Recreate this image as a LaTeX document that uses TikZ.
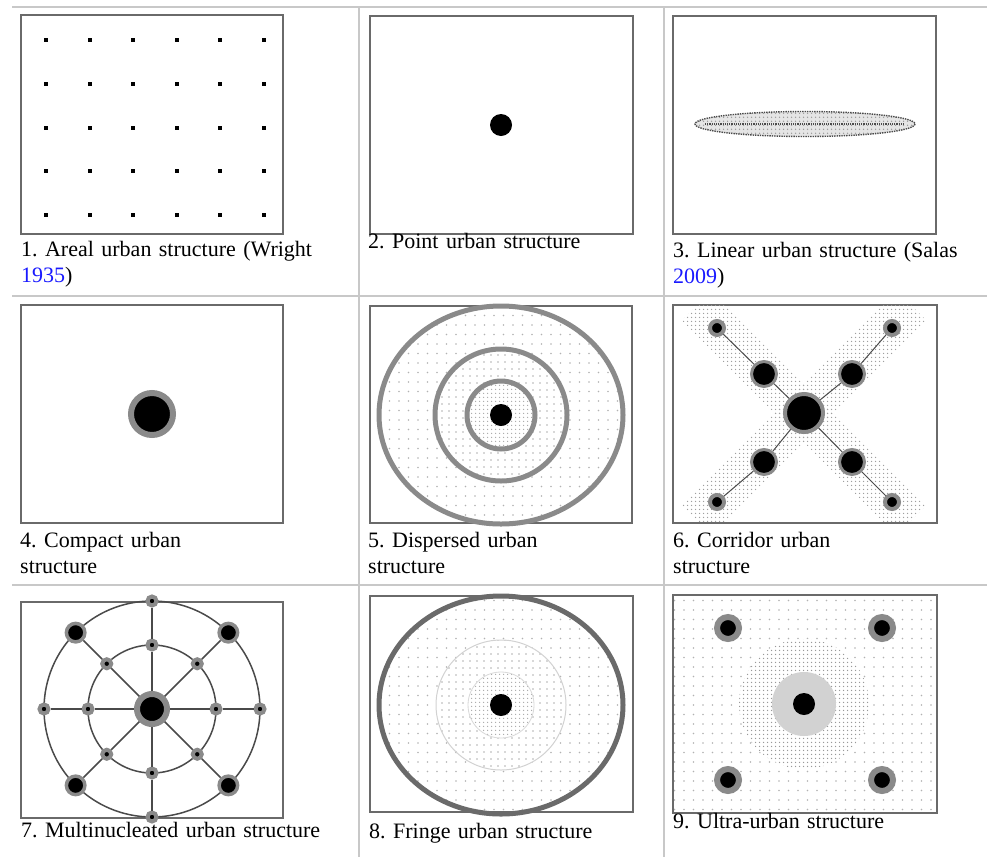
\documentclass[tikz,border=0pt]{standalone}
\usepackage{fontspec}
\setmainfont[WordSpace=1.35]{Liberation Serif}
\usepackage{xcolor}
\usepackage{tikz}
\usetikzlibrary{positioning,patterns.meta}

\definecolor{gridgray}{HTML}{C8C8C8}
\definecolor{framegray}{HTML}{6A6A6A}
\definecolor{ringgray}{HTML}{8A8A8A}
\definecolor{roadgray}{HTML}{4A4A4A}
\definecolor{citeblue}{HTML}{1A1AFF}

\begin{document}
\begin{tikzpicture}[
    x=1pt, y=-1pt,
    every node/.style={font=\fontsize{22}{26.5}\selectfont\frenchspacing},
    grid/.style={gridgray, line width=2pt},
    frame/.style={draw=framegray, line width=1.8pt},
    caption/.style={anchor=base west, inner sep=0pt},
    core/.style={circle, fill=black, inner sep=0pt, minimum size=#1},
    hub/.style 2 args={circle, fill=black, draw=ringgray, inner sep=0pt,
        minimum size=#1+#2, line width=#2-#1},
    road/.style={roadgray, line width=1.5pt},
    ring/.style={ringgray, line width=5pt},
    sparsedots/.style={pattern={Dots[distance=9.5pt, radius=0.9pt]}, pattern color=gray!60},
    middots/.style={pattern={Dots[distance=6.5pt, radius=0.9pt]}, pattern color=gray!60},
    densedots/.style={pattern={Dots[distance=4pt, radius=0.9pt]}, pattern color=gray!70}
]
\useasboundingbox (0,0) rectangle (987,857);

% table rules
\foreach \y in {7,296,585}
    \draw[grid] (12,\y) -- (987,\y);
\foreach \x in {359,664}
    \draw[grid] (\x,7) -- (\x,857);

% 1. areal
\draw[frame] (21,15) rectangle (283,234);
\foreach \i in {0,...,5}
    \foreach \j in {0,...,4}
        \fill ({44+43.6*\i},{38+43.75*\j}) rectangle ++(4,4);
\node[caption] (cap1) at (21,256) {\parbox[t]{330pt}{1. Areal urban structure (Wright\\\textcolor{citeblue}{1935})}};

% 2. point
\draw[frame] (370,16) rectangle (633,234);
\node[core=22] (p2) at (501,125) {};
\node[caption] (cap2) at (368,248) {2. Point urban structure};

% 3. linear
\draw[frame] (673,16) rectangle (936,234);
\fill[gray!20] (805,124) ellipse [x radius=110, y radius=12.5];
\fill[densedots, pattern color=gray!80] (805,124) ellipse [x radius=110, y radius=12.5];
\draw[roadgray, densely dotted, line width=1.4pt] (805,124) ellipse [x radius=110, y radius=12.5];
\draw[roadgray, densely dotted, line width=1.2pt] (705,124) -- (905,124);
\node[caption] (cap3) at (673,257) {\parbox[t]{330pt}{3. Linear urban structure (Salas\\\textcolor{citeblue}{2009})}};

% 4. compact
\draw[frame] (21,305) rectangle (283,523);
\node[hub={18}{24}] (c4) at (152,414) {};
\node[caption] (cap4) at (20,547) {\parbox[t]{330pt}{4. Compact urban\\structure}};

% 5. dispersed
\draw[frame] (370,306) rectangle (632,523);
\fill[sparsedots] (501,415) ellipse [x radius=122, y radius=109];
\fill[white] (501,415) circle [radius=66];
\fill[middots] (501,415) circle [radius=66];
\fill[white] (501,415) circle [radius=34];
\fill[densedots] (501,415) circle [radius=34];
\draw[ring] (501,415) ellipse [x radius=122, y radius=109];
\draw[ring] (501,415) circle [radius=66];
\draw[ring] (501,415) circle [radius=34];
\node[core=22] (p5) at (501,415) {};
\node[caption] (cap5) at (368,547) {\parbox[t]{330pt}{5. Dispersed urban\\structure}};

% 6. corridor
\draw[frame] (673,305) rectangle (937,523);
\begin{scope}
    \clip (673,305) rectangle (937,523);
    \foreach \a in {45,-45}
        \fill[densedots, pattern color=gray!75, shift={(804,413)}, rotate=\a] (-152,-21) rectangle (152,21);
\end{scope}
\node[hub={17}{21}] (c6) at (804,413) {};
\node[hub={11}{14}] (m6a) at (764,374) {};
\node[hub={11}{14}] (m6b) at (852,374) {};
\node[hub={11}{14}] (m6c) at (764,462) {};
\node[hub={11}{14}] (m6d) at (852,462) {};
\node[hub={5}{9}] (o6a) at (717,328) {};
\node[hub={5}{9}] (o6b) at (892,328) {};
\node[hub={5}{9}] (o6c) at (717,502) {};
\node[hub={5}{9}] (o6d) at (892,502) {};
\foreach \k in {a,b,c,d}
    \draw[road, line width=1pt] (o6\k) -- (m6\k) -- (c6);
\node[caption] (cap6) at (673,547) {\parbox[t]{330pt}{6. Corridor urban\\structure}};

% 7. multinucleated
\draw[frame] (21,602) rectangle (283,818);
\begin{scope}[shift={(152,709)}]
    \draw[road] (0,0) circle [radius=108];
    \draw[road] (0,0) circle [radius=64];
    \node[hub={12}{18}] (c7) at (0,0) {};
    \foreach \a in {0,90,180,270}
        \node[hub={2.5}{6.5}] (o7-\a) at (\a:108) {};
    \foreach \a in {45,135,225,315}
        \node[hub={7.5}{11}] (o7-\a) at (\a:108) {};
    \foreach \a in {0,45,...,315} {
        \node[hub={2.5}{6.5}] (i7-\a) at (\a:64) {};
        \draw[road] (c7) -- (i7-\a) -- (o7-\a);
    }
\end{scope}
\node[caption] (cap7) at (21,837) {7. Multinucleated urban structure};

% 8. fringe
\draw[frame] (370,596) rectangle (633,812);
\fill[sparsedots] (501,705) ellipse [x radius=122, y radius=109];
\fill[white] (501,705) circle [radius=65];
\fill[middots] (501,705) circle [radius=65];
\draw[gray!35, line width=1pt] (501,705) circle [radius=65];
\fill[white] (501,705) circle [radius=33];
\fill[densedots] (501,705) circle [radius=33];
\draw[gray!30, line width=0.8pt] (501,705) circle [radius=33];
\draw[framegray, line width=5pt] (501,705) ellipse [x radius=122, y radius=109];
\node[core=22] (p8) at (501,705) {};
\node[caption] (cap8) at (369,838) {8. Fringe urban structure};

% 9. ultra-urban
\fill[sparsedots] (673,595) rectangle (937,813);
\draw[frame] (673,595) rectangle (937,813);
\fill[white] (804,704) circle [radius=65];
\fill[densedots, pattern color=gray!80] (804,704) circle [radius=65];
\fill[gray!35] (804,704) circle [radius=32];
\node[core=22] (p9) at (804,704) {};
\node[hub={8}{14}] (u9a) at (728,628) {};
\node[hub={8}{14}] (u9b) at (882,628) {};
\node[hub={8}{14}] (u9c) at (728,780) {};
\node[hub={8}{14}] (u9d) at (882,780) {};
\node[caption] (cap9) at (673,828) {9. Ultra-urban structure};
\end{tikzpicture}
\end{document}
